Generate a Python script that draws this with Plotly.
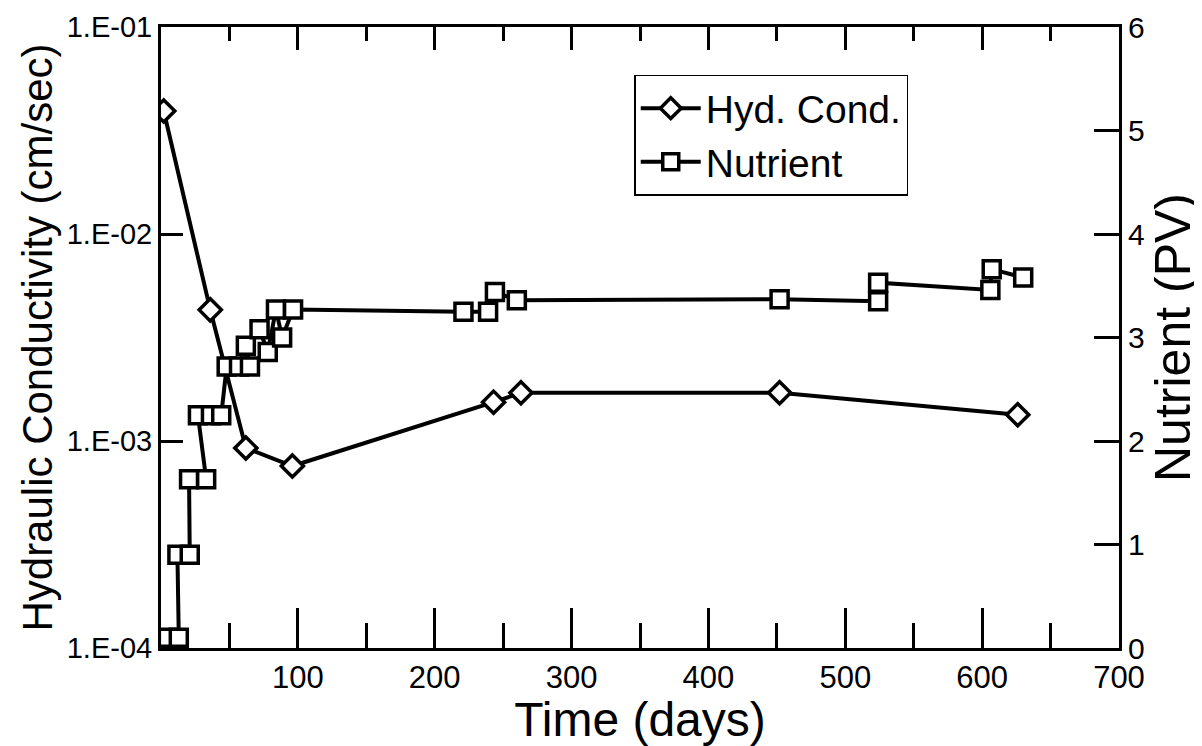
import plotly.graph_objects as go

# ---- data ----
hyd_days = [2, 36, 62, 96, 243, 263, 452, 626]
hyd_k = [0.0393, 0.0043, 0.000925, 0.000757, 0.00154, 0.00171, 0.00171, 0.00134]

nut_days = [5, 13, 12, 21, 20.5, 33, 27, 36.5, 44, 48, 57, 65, 62, 72, 78, 84, 88.5, 96.5,
            221, 239, 244, 260, 452, 524, 524, 606, 607, 630]
nut_pv = [0.10, 0.10, 0.90, 0.90, 1.63, 1.63, 2.25, 2.25, 2.25, 2.72, 2.72, 2.72, 2.92, 3.08,
          2.86, 3.27, 3.00, 3.27, 3.25, 3.25, 3.44, 3.36, 3.37, 3.35, 3.53, 3.46, 3.66, 3.58]

# tick label text for the log axis (decade labels)
y_label_alias = {"0.0001": "1.E-04", "0.001": "1.E-03", "0.01": "1.E-02", "0.1": "1.E-01"}
x_label_alias = {"0": ""}

FONT = "Liberation Sans, Arial, sans-serif"

fig = go.Figure()

fig.add_trace(go.Scatter(
    x=hyd_days, y=hyd_k, name="Hyd. Cond.", mode="lines+markers",
    line=dict(color="black", width=4),
    marker=dict(symbol="diamond", size=17, color="white", line=dict(color="black", width=3.5)),
    xaxis="x", yaxis="y",
))
fig.add_trace(go.Scatter(
    x=nut_days, y=nut_pv, name="Nutrient", mode="lines+markers",
    line=dict(color="black", width=4),
    marker=dict(symbol="square", size=17, color="white", line=dict(color="black", width=3.5)),
    xaxis="x", yaxis="y2",
))
# empty trace that carries the top axis
fig.add_trace(go.Scatter(x=[None], y=[None], xaxis="x2", yaxis="y", showlegend=False,
                         hoverinfo="skip"))

tick_style = dict(ticks="inside", tickwidth=2.5, tickcolor="black",
                  showline=True, linewidth=3, linecolor="black",
                  showgrid=False, zeroline=False)

fig.update_layout(
    template="none",
    width=1194, height=738,
    margin=dict(l=153, r=83, t=19, b=98),
    paper_bgcolor="white", plot_bgcolor="rgba(0,0,0,0)",
    font=dict(family=FONT, color="black", size=30),
    showlegend=True,
    legend=dict(
        x=0.494, y=0.923, xanchor="left", yanchor="top",
        bgcolor="white", bordercolor="black", borderwidth=1.5,
        font=dict(size=39, family=FONT), itemwidth=60, tracegroupgap=0,
    ),
    xaxis=dict(
        range=[0, 700], tickmode="linear", tick0=0, dtick=100, ticklen=40,
        labelalias=x_label_alias, tickfont=dict(size=31),
        minor=dict(tickmode="linear", tick0=0, dtick=50, ticks="inside", ticklen=25,
                   tickwidth=2.5, tickcolor="black", showgrid=False),
        title=dict(text="Time (days)", font=dict(size=48), standoff=2),
        **tick_style,
    ),
    xaxis2=dict(
        range=[0, 700], side="top", anchor="y", tickmode="linear", tick0=0, dtick=100,
        ticklen=23, showticklabels=False,
        minor=dict(tickmode="linear", tick0=0, dtick=50, ticks="inside", ticklen=14,
                   tickwidth=2.5, tickcolor="black", showgrid=False),
        **tick_style,
    ),
    yaxis=dict(
        type="log", range=[-4, -1], tickmode="linear", tick0=0, dtick=1,
        exponentformat="none", labelalias=y_label_alias, ticklen=22, mirror="ticks",
        tickfont=dict(size=29),
        title=dict(text="Hydraulic Conductivity (cm/sec)", font=dict(size=42), standoff=2),
        **tick_style,
    ),
    yaxis2=dict(
        range=[0, 6], tickmode="linear", tick0=0, dtick=1, side="right", anchor="x",
        ticklen=25, tickfont=dict(size=30),
        title=dict(text="Nutrient (PV)", font=dict(size=50), standoff=12),
        **tick_style,
    ),
)

fig.write_html("out.html")
